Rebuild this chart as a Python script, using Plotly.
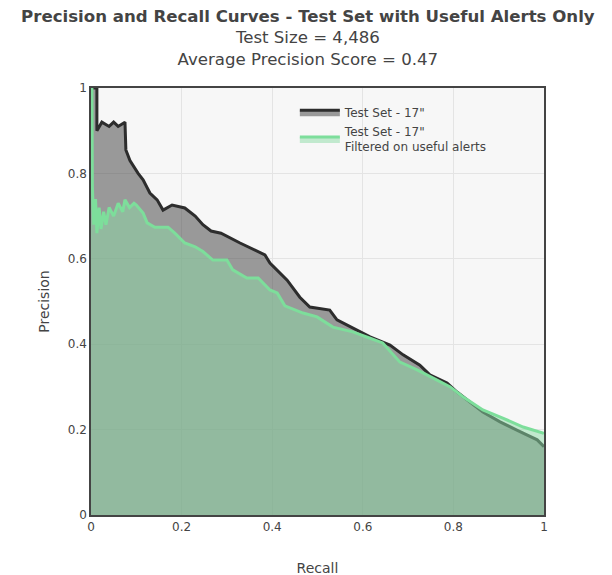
import plotly.graph_objects as go

# Test Set - 17"
recall_all = [0.0, 0.013, 0.013, 0.024, 0.04, 0.05, 0.06, 0.075, 0.077, 0.086, 0.104, 0.115,
              0.13, 0.146, 0.159, 0.179, 0.207, 0.23, 0.247, 0.265, 0.287, 0.329, 0.384,
              0.395, 0.433, 0.461, 0.483, 0.527, 0.543, 0.587, 0.616, 0.66, 0.689, 0.726,
              0.748, 0.786, 0.808, 0.865, 0.903, 0.94, 0.985, 1.0]
precision_all = [1.0, 1.0, 0.90, 0.92, 0.91, 0.92, 0.91, 0.92, 0.855, 0.83, 0.80, 0.785,
                 0.754, 0.738, 0.714, 0.726, 0.719, 0.70, 0.68, 0.665, 0.66, 0.637, 0.609,
                 0.59, 0.55, 0.51, 0.487, 0.48, 0.457, 0.433, 0.417, 0.398, 0.375, 0.351,
                 0.328, 0.309, 0.288, 0.241, 0.218, 0.199, 0.176, 0.16]

# Test Set - 17" filtered on useful alerts
recall_useful = [0.0, 0.002, 0.003, 0.006, 0.01, 0.013, 0.018, 0.022, 0.028, 0.033, 0.04,
                 0.05, 0.06, 0.07, 0.075, 0.085, 0.095, 0.1, 0.115, 0.124, 0.141, 0.17,
                 0.185, 0.207, 0.23, 0.247, 0.269, 0.30, 0.313, 0.344, 0.369, 0.395, 0.411,
                 0.428, 0.468, 0.499, 0.534, 0.578, 0.616, 0.644, 0.682, 0.72, 0.764,
                 0.793, 0.821, 0.865, 0.909, 0.954, 0.998, 1.0]
precision_useful = [1.0, 1.0, 0.77, 0.68, 0.74, 0.66, 0.72, 0.67, 0.71, 0.68, 0.72,
                    0.70, 0.73, 0.71, 0.738, 0.72, 0.73, 0.726, 0.707, 0.684, 0.674, 0.674,
                    0.66, 0.637, 0.628, 0.617, 0.597, 0.597, 0.574, 0.555, 0.555, 0.527, 0.52,
                    0.49, 0.473, 0.464, 0.44, 0.429, 0.414, 0.403, 0.358, 0.34, 0.316,
                    0.30, 0.277, 0.246, 0.227, 0.206, 0.192, 0.19]

title_main = "Precision and Recall Curves - Test Set with Useful Alerts Only"
subtitle_1 = "Test Size = 4,486"
subtitle_2 = "Average Precision Score = 0.47"

font_family = "Verdana, DejaVu Sans, sans-serif"

fig = go.Figure()
fig.add_trace(go.Scatter(
    x=recall_all, y=precision_all, mode="lines", name='Test Set - 17"',
    line=dict(color="rgb(45,45,45)", width=3),
    fill="tozeroy", fillcolor="rgba(60,60,60,0.5)",
))
fig.add_trace(go.Scatter(
    x=recall_useful, y=precision_useful, mode="lines",
    name='Test Set - 17"<br>Filtered on useful alerts',
    line=dict(color="rgb(125,222,155)", width=3),
    fill="tozeroy", fillcolor="rgba(140,220,165,0.5)",
))

fig.update_layout(
    width=612, height=575,
    margin=dict(l=83, r=76, t=80, b=68),
    font=dict(family=font_family, color="#444", size=12),
    title=dict(
        text=f"<b>{title_main}</b><br>{subtitle_1}<br>{subtitle_2}",
        x=0.49, xanchor="center", xref="container",
        y=0.976, yanchor="middle", yref="container",
        font=dict(size=16.6, family=font_family, color="#444"),
    ),
    paper_bgcolor="white",
    plot_bgcolor="rgb(247,247,247)",
    legend=dict(
        x=0.45, y=0.977, xanchor="left", yanchor="top",
        bgcolor="rgba(0,0,0,0)", font=dict(size=12), itemwidth=40,
    ),
    xaxis=dict(
        title=dict(text="Recall", standoff=30, font=dict(size=14)),
        automargin=False,
        range=[0, 1], dtick=0.2, showgrid=True, gridcolor="rgb(228,228,228)",
        showline=True, linecolor="rgb(68,68,68)", linewidth=1.5, mirror=True,
        zeroline=False, ticks="", tickfont=dict(size=12),
    ),
    yaxis=dict(
        title=dict(text="Precision", standoff=15, font=dict(size=14)),
        automargin=False,
        range=[0, 1], dtick=0.2, showgrid=True, gridcolor="rgb(228,228,228)",
        showline=True, linecolor="rgb(68,68,68)", linewidth=1.5, mirror=True,
        zeroline=False, ticks="", tickfont=dict(size=12),
    ),
)

fig.write_html("out.html")
